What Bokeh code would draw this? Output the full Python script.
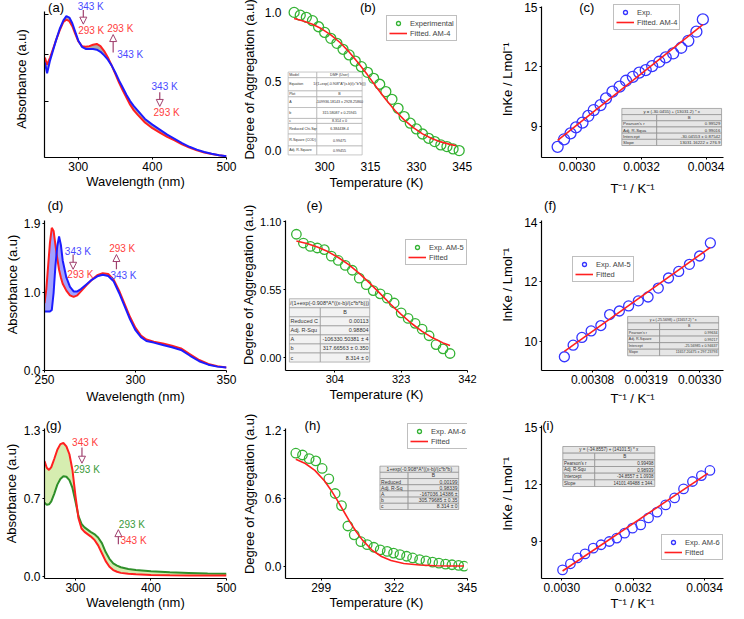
from bokeh.plotting import figure
from bokeh.layouts import gridplot
from bokeh.models import (Range1d, FixedTicker, PrintfTickFormatter, Legend, LegendItem,
                          Label, Arrow, NormalHead)
from bokeh.core.properties import value
from bokeh.embed import file_html
from bokeh.resources import INLINE

FONT = "Liberation Sans"

# ---------------- data ----------------
# (a) AM-4 spectra
WL_A = [255, 258, 262, 266, 270, 275, 280, 284, 288, 292, 296, 300, 305, 310, 315, 320, 325, 330, 335, 340,
        345, 350, 355, 360, 365, 370, 375, 380, 390, 400, 410, 420, 430, 440, 450, 460, 470, 480, 490, 500]
ABS_A_343 = [0.665, 0.59, 0.68, 0.75, 0.82, 0.90, 0.96, 0.99, 0.98, 0.94, 0.88, 0.82, 0.775, 0.76, 0.76, 0.76,
             0.755, 0.74, 0.715, 0.685, 0.645, 0.595, 0.54, 0.49, 0.44, 0.395, 0.36, 0.33, 0.27, 0.23, 0.195,
             0.16, 0.13, 0.10, 0.075, 0.055, 0.038, 0.026, 0.016, 0.009]
ABS_A_293 = [0.70, 0.65, 0.70, 0.76, 0.82, 0.89, 0.95, 0.965, 0.955, 0.92, 0.865, 0.815, 0.78, 0.775, 0.78, 0.79,
             0.795, 0.78, 0.745, 0.70, 0.645, 0.585, 0.525, 0.47, 0.42, 0.37, 0.33, 0.30, 0.245, 0.205, 0.175,
             0.145, 0.12, 0.092, 0.07, 0.05, 0.035, 0.024, 0.015, 0.008]

# (b) AM-4 degree of aggregation
T_B = [290, 292, 294, 296, 298, 300, 302, 304, 306, 308, 310, 312, 314, 316, 318, 320, 322, 324, 326, 328,
       330, 332, 334, 336, 338, 340, 342, 344]
DA_B = [1.0, 0.98, 0.964, 0.94, 0.896, 0.855, 0.812, 0.776, 0.733, 0.692, 0.648, 0.607, 0.566, 0.523, 0.480,
        0.427, 0.371, 0.306, 0.246, 0.198, 0.157, 0.12, 0.089, 0.065, 0.041, 0.029, 0.012, 0.0]
FIT_T_B = [290, 293, 296, 299, 302, 305, 308, 311, 314, 317, 320, 323, 326, 329, 332, 335, 338, 341, 343]
FIT_B = [0.956, 0.938, 0.914, 0.881, 0.837, 0.782, 0.714, 0.634, 0.548, 0.457, 0.370, 0.290, 0.222, 0.166,
         0.121, 0.088, 0.063, 0.045, 0.035]

# (c) AM-4 van't Hoff
INVT_C = [0.00294, 0.00296, 0.00298, 0.002997, 0.003017, 0.003035, 0.003052, 0.003073, 0.00309, 0.00311,
          0.003132, 0.003152, 0.003173, 0.003193, 0.003213, 0.003233, 0.003255, 0.003275, 0.003298, 0.003323,
          0.003345, 0.00337, 0.00339]
LNK_C = [7.95, 8.33, 8.63, 8.93, 9.17, 9.51, 9.81, 10.06, 10.40, 10.74, 10.99, 11.29, 11.49, 11.70, 11.83,
         12.03, 12.25, 12.47, 12.67, 12.96, 13.31, 13.77, 14.39]
FIT_X_C = [0.00294, 0.00339]
FIT_Y_C = [8.27, 14.13]

# (d) AM-5 spectra
WL_D = [250, 251, 252, 253, 254, 255, 256, 257, 258, 259, 260, 262, 264, 266, 268, 270, 273, 276, 279, 282,
        285, 288, 291, 294, 297, 300, 303, 306, 310, 315, 320, 325, 330, 335, 340, 345, 350]
ABS_D_343 = [0.76, 0.76, 0.76, 0.76, 0.78, 1.0, 1.35, 1.6, 1.73, 1.62, 1.42, 1.2, 1.08, 1.02, 1.02, 1.05,
             1.11, 1.17, 1.215, 1.235, 1.22, 1.15, 1.00, 0.83, 0.66, 0.52, 0.43, 0.38, 0.36, 0.33, 0.30,
             0.265, 0.19, 0.12, 0.075, 0.05, 0.038]
ABS_D_293 = [0.87, 1.05, 1.35, 1.65, 1.84, 1.80, 1.62, 1.45, 1.30, 1.2, 1.12, 1.03, 0.97, 0.95, 0.97, 1.02,
             1.10, 1.17, 1.23, 1.255, 1.245, 1.17, 1.03, 0.86, 0.69, 0.55, 0.45, 0.40, 0.37, 0.35, 0.32,
             0.285, 0.21, 0.135, 0.085, 0.055, 0.04]

# (e) AM-5 degree of aggregation
T_E = [293, 295, 297, 299, 301, 303, 305, 307, 309, 311, 313, 315, 317, 319, 321, 323, 325, 327, 329, 331,
       333, 335, 337]
DA_E = [0.999, 0.928, 0.901, 0.888, 0.875, 0.822, 0.787, 0.747, 0.708, 0.644, 0.591, 0.543, 0.517, 0.482,
        0.443, 0.363, 0.318, 0.278, 0.231, 0.178, 0.106, 0.072, 0.034]
FIT_T_E = [293, 296, 299, 302, 305, 308, 311, 314, 317, 320, 323, 326, 329, 332, 335, 337]
FIT_E = [0.945, 0.924, 0.896, 0.859, 0.811, 0.753, 0.683, 0.604, 0.519, 0.433, 0.351, 0.277, 0.213, 0.161,
         0.120, 0.098]

# (f) AM-5 van't Hoff
INVT_F = [0.003022, 0.00304, 0.003058, 0.003077, 0.003097, 0.003115, 0.003135, 0.003154, 0.003174, 0.003194,
          0.003215, 0.003236, 0.003257, 0.003279, 0.0033, 0.003322]
LNK_F = [9.48, 9.87, 10.13, 10.35, 10.53, 10.90, 11.02, 11.19, 11.36, 11.49, 11.79, 12.13, 12.35, 12.59,
         12.87, 13.31]
FIT_X_F = [0.003022, 0.003322]
FIT_Y_F = [9.66, 13.16]

# (g) AM-6 spectra
WL_G = [259, 262, 265, 268, 272, 276, 280, 284, 288, 292, 296, 300, 304, 308, 312, 316, 320, 325, 330, 335,
        340, 345, 350, 355, 360, 370, 380, 400, 425, 450, 475, 500]
ABS_G_343 = [1.03, 0.97, 0.95, 0.975, 1.05, 1.13, 1.18, 1.19, 1.16, 1.09, 0.95, 0.72, 0.52, 0.43, 0.40, 0.38,
             0.36, 0.33, 0.28, 0.21, 0.14, 0.09, 0.06, 0.045, 0.035, 0.027, 0.022, 0.017, 0.013, 0.012, 0.012,
             0.012]
ABS_G_293 = [0.66, 0.64, 0.645, 0.67, 0.74, 0.82, 0.87, 0.895, 0.89, 0.86, 0.79, 0.67, 0.54, 0.47, 0.44, 0.42,
             0.40, 0.38, 0.35, 0.30, 0.22, 0.16, 0.12, 0.10, 0.085, 0.07, 0.06, 0.05, 0.04, 0.035, 0.03, 0.028]

# (h) AM-6 degree of aggregation
T_H = [291.0, 293.1, 295.2, 297.3, 299.3, 301.4, 303.4, 305.4, 307.4, 309.4, 311.5, 313.5, 315.6, 317.6,
       319.8, 321.8, 323.8, 325.9, 327.8, 330.0, 332.0, 334.1, 336.1, 338.2, 340.2, 342.3, 344.0]
DA_H = [1.0, 0.984, 0.952, 0.932, 0.865, 0.773, 0.643, 0.536, 0.355, 0.277, 0.216, 0.190, 0.167, 0.144, 0.130,
        0.115, 0.101, 0.087, 0.072, 0.058, 0.046, 0.035, 0.026, 0.017, 0.012, 0.006, 0.0]
FIT_T_H = [291, 294, 297, 300, 302, 304, 306, 308, 310, 312, 315, 318, 321, 325, 330, 335, 340, 344]
FIT_H = [0.947, 0.909, 0.848, 0.756, 0.677, 0.587, 0.490, 0.394, 0.306, 0.230, 0.142, 0.085, 0.049, 0.023,
         0.009, 0.003, 0.001, 0.0006]

# (i) AM-6 van't Hoff
INVT_I = [0.003002, 0.003024, 0.003044, 0.003065, 0.003088, 0.00311, 0.003133, 0.003154, 0.003176, 0.003198,
          0.003221, 0.003243, 0.003267, 0.003291, 0.003316, 0.003341, 0.003366, 0.003391, 0.003415]
LNK_I = [7.51, 7.83, 8.14, 8.35, 8.65, 8.83, 9.00, 9.18, 9.44, 9.70, 9.87, 10.24, 10.54, 10.92, 11.29, 11.76,
         12.15, 12.46, 12.73]
FIT_X_I = [0.003002, 0.003409]
FIT_Y_I = [7.45, 12.58]

# tick labels
XT_A = [300, 400, 500]
XT_B = [300, 315, 330, 345]
XT_C = [0.0030, 0.0032, 0.0034]
XT_D = [250, 300, 350]
XT_E = [304, 323, 342]
XT_F = [0.00308, 0.00319, 0.00330]
XT_H = [299, 322, 345]
YT_A = [0, 0.39, 0.72, 1.0]
YT_B = [0.0, 0.5, 1.0]
YT_C = [9, 12, 15]
YT_D = [0.0, 1.0, 1.9]
YT_E = [0.0, 0.55, 1.10]
YT_F = [10, 12, 14]
YT_G = [0.0, 0.7, 1.3]
YT_H = [0.0, 0.6, 1.2]

# fit tables
TAB_B = [("Model", "DMF (User)"), ("Equation", "1/(1+exp(-0.908*A*(x-b)/(c*b*b)))"), ("Plot", "B"),
         ("A", "-109936.18143 ± 2928.25860"), ("b", "315.58087 ± 0.25945"), ("c", "8.314 ± 0"),
         ("Reduced Chi-Sqr", "6.38443E-4"), ("R-Square (COD)", "0.99475"), ("Adj. R-Square", "0.99455")]
TAB_C = [("y = (-30.0455) + (13031.2) * x",), ("", "B", "center"), ("Pearson's r", "0.99529"),
         ("Adj. R-Squa", "0.99016"), ("Intercept", "-30.04553 ± 0.87542"), ("Slope", "13031.16222 ± 276.9")]
TAB_E = [("/(1+exp(-0.908*A*((x-b)/(c*b*b)))",), ("", "B", "center"), ("Reduced C", "0.00113"),
         ("Adj. R-Squ", "0.98804"), ("A", "-106330.50381 ± 4"), ("b", "317.66563 ± 0.350"), ("c", "8.314 ± 0")]
TAB_F = [("y = (-25.5698) + (11657.2) * x",), ("", "B", "center"), ("Pearson's r", "0.99634"),
         ("Adj. R-Square", "0.99217"), ("Intercept", "-25.56985 ± 0.94637"), ("Slope", "11657.20475 ± 297.23793")]
TAB_H = [("1+exp(-0.908*A*((x-b)/(c*b*b)",), ("", "B", "center"), ("Reduced", "0.00199"),
         ("Adj. R-Sq", "0.98339"), ("A", "-167036.14386 ±"), ("b", "305.79685 ± 0.35"), ("c", "8.314 ± 0")]
TAB_I = [("y = (-34.8557) + (14101.5) * x",), ("", "B", "center"), ("Pearson's r", "0.99498"),
         ("Adj. R-Squ", "0.98939"), ("Intercept", "-34.8557 ± 1.0938"), ("Slope", "14101.49488 ± 344.")]

# ---------------- styling ----------------
BLUE = "#1c1cff"
RED = "#ff2020"
GREEN_C = "#35b335"
GREEN_L = "#2f8f2a"
BLUE_C = "#3535ff"
BLUE_T = "#4a4aff"
RED_T = "#ff4040"
GREEN_T = "#3a9a3a"
ARROW = "#a0406e"


def build(frame, cell, xr, yr):
    """frame = reference plot-area box (px); the drawn frame is stretched up to the cell top
    so that panel letters are not clipped; the y axis line is bounded to the original range."""
    L, R, T, B = frame
    cx0, cx1, cy0, cy1 = cell

    def fx(a):
        return xr[0] + (a - L) / (R - L) * (xr[1] - xr[0])

    def fy(a):
        return yr[0] + (B - a) / (B - T) * (yr[1] - yr[0])
    ytop = fy(cy0)
    p = figure(width=cx1 - cx0, height=cy1 - cy0,
               x_range=Range1d(*xr), y_range=Range1d(yr[0], ytop),
               min_border_left=L - cx0, min_border_right=cx1 - R,
               min_border_top=0, min_border_bottom=cy1 - B,
               title_location=None,
               output_backend="svg", toolbar_location=None, tools="")
    p.outline_line_color = None
    p.xgrid.visible = False
    p.ygrid.visible = False
    p.background_fill_color = "white"
    p.border_fill_color = "white"
    p.yaxis[0].bounds = (yr[0], yr[1])
    return p, fx, fy


def axes(p, xticks, yticks, xfmt, yfmt, xlabel, ylabel, xls, yls, lines=True, tick_fs="12px"):
    xa, ya = p.xaxis[0], p.yaxis[0]
    xa.ticker = FixedTicker(ticks=xticks)
    ya.ticker = FixedTicker(ticks=yticks)
    xa.formatter = PrintfTickFormatter(format=xfmt)
    ya.formatter = PrintfTickFormatter(format=yfmt)
    xa.axis_label = xlabel
    ya.axis_label = ylabel
    for ax in (xa, ya):
        ax.axis_line_color = "black" if lines else None
        ax.axis_line_width = 1.2
        ax.major_tick_line_color = "black" if lines else None
        ax.major_tick_line_width = 1
        ax.major_tick_out = 2
        ax.major_tick_in = 0
        ax.minor_tick_line_color = None
        ax.major_label_text_font = FONT
        ax.major_label_text_font_size = tick_fs
        ax.major_label_text_color = "black"
        ax.major_label_standoff = 2
        ax.axis_label_text_font = FONT
        ax.axis_label_text_font_size = "13px"
        ax.axis_label_text_font_style = "normal"
        ax.axis_label_text_color = "black"
    xa.axis_label_standoff = xls
    ya.axis_label_standoff = yls


def table(p, fx, fy, left, right, split, top, heights, rows, fs, fill, line, col2="right"):
    ql, qr, qt, qb = [], [], [], []
    groups = {"left": ([], [], []), "center": ([], [], []), "right": ([], [], [])}
    y = top
    for h, row in zip(heights, rows):
        yb = y + h
        ym = (y + yb) / 2
        if len(row) == 1:
            cells = [(left, right, row[0], "center")]
        else:
            al2 = row[2] if len(row) > 2 else col2
            cells = [(left, split, row[0], "left"), (split, right, row[1], al2)]
        for a, b_, t, al in cells:
            ql.append(fx(a)); qr.append(fx(b_)); qt.append(fy(y)); qb.append(fy(yb))
            if t:
                tx = a + 1.2 if al == "left" else (b_ - 1.2 if al == "right" else (a + b_) / 2)
                g = groups[al]
                g[0].append(fx(tx)); g[1].append(fy(ym)); g[2].append(t)
        y = yb
    p.quad(left=ql, right=qr, top=qt, bottom=qb, fill_color=fill, line_color=line, line_width=0.7)
    for al, (xs, ys, ts) in groups.items():
        if xs:
            p.text(x=xs, y=ys, text=ts, text_align=al, text_baseline="middle",
                   text_font=value(FONT), text_font_size=value(fs), text_color="#333333")


def legend(p, items, loc):
    leg = Legend(items=[LegendItem(label=t, renderers=[r]) for t, r in items], location=loc,
                 border_line_color="#808080", border_line_width=1, background_fill_color="white",
                 background_fill_alpha=1, label_text_font=FONT, label_text_font_size="7.5px",
                 glyph_height=10, glyph_width=18, label_height=9, label_standoff=3, spacing=0,
                 padding=2, margin=0)
    p.add_layout(leg)


def lab(p, fx, fy, text, x, y, color, size="10px"):
    p.add_layout(Label(x=fx(x), y=fy(y), text=text, text_color=color, text_font=FONT,
                       text_font_size=size, text_align="center", text_baseline="middle"))


def arrow(p, fx, fy, x, y0, y1):
    p.add_layout(Arrow(end=NormalHead(size=7, fill_color="white", line_color=ARROW, line_width=1),
                       x_start=fx(x), y_start=fy(y0), x_end=fx(x), y_end=fy(y1),
                       line_color=ARROW, line_width=1.2))


# ---------------- (a) ----------------
pa, fx, fy = build((37, 226, 12, 166), (0, 238, 0, 198), (254.5, 500), (0, 1.02))
axes(pa, XT_A, YT_A, "%d", "%.1f", "Wavelength (nm)", "Absorbance (a.u)", 0, 16)
pa.yaxis[0].major_label_text_color = None
pa.yaxis[0].major_label_standoff = 0
pa.yaxis[0].major_tick_in = 4
pa.yaxis[0].major_tick_out = 0
pa.varea(x=WL_A, y1=ABS_A_343, y2=ABS_A_293, fill_color="#ababab")
pa.line(WL_A, ABS_A_293, line_color=RED, line_width=2)
pa.line(WL_A, ABS_A_343, line_color=BLUE, line_width=2)
lab(pa, fx, fy, "343 K", 85, 6, BLUE_T)
arrow(pa, fx, fy, 77.3, 10, 25)
lab(pa, fx, fy, "293 K", 85.5, 32, RED_T)
lab(pa, fx, fy, "293 K", 115.7, 29.7, RED_T)
arrow(pa, fx, fy, 108.3, 55, 36)
lab(pa, fx, fy, "343 K", 126, 57, BLUE_T)
lab(pa, fx, fy, "343 K", 161.7, 90.7, BLUE_T)
arrow(pa, fx, fy, 156.7, 97, 112)
lab(pa, fx, fy, "293 K", 163.8, 118.8, RED_T)
lab(pa, fx, fy, "(a)", 49, 7.5, "black", "13px")

# ---------------- (b) ----------------
pb, fx, fy = build((281, 490, 5, 158), (238, 497, 0, 198), (287.18, 346.72), (-0.05, 1.05))
axes(pb, XT_B, YT_B, "%d", "%.1f", "Temperature (K)", "Degree of Aggregation (a.u)", 1, 5, lines=False)
table(pb, fx, fy, 284, 369, 317, 72, [5.7, 13.3, 6, 10.7, 11, 5, 10.7, 12, 9], TAB_B, "3.6px",
      "white", "#b0b0b0", col2="center")
rb1 = pb.scatter(T_B, DA_B, marker="circle", size=10, fill_color=None, line_color=GREEN_C, line_width=1.3)
rb2 = pb.line(FIT_T_B, FIT_B, line_color=RED, line_width=1.6)
legend(pb, [("Experimental", rb1), ("Fitted. AM-4", rb2)], (101, 116))
lab(pb, fx, fy, "(b)", 375.7, 7.5, "black", "13px")

# ---------------- (c) ----------------
pc, fx, fy = build((535, 723, 6, 160), (497, 744, 0, 198), (0.00289, 0.003454), (7.41, 15.05))
axes(pc, XT_C, YT_C, "%.4f", "%d", "T⁻¹ / K⁻¹", "lnKe / Lmol⁻¹", 7, 6)
table(pc, fx, fy, 618, 721, 654, 110, [6.3] * 6, TAB_C, "4.3px", "#e6e6e6", "#8c8c8c")
rc1 = pc.scatter(INVT_C, LNK_C, marker="circle", size=11, fill_color=None, line_color=BLUE_C, line_width=1.3)
rc2 = pc.line(FIT_X_C, FIT_Y_C, line_color=RED, line_width=1.6)
legend(pc, [("Exp.", rc1), ("Fitted. AM-4", rc2)], (72, 127))
lab(pc, fx, fy, "(c)", 581.7, 7.5, "black", "13px")

# ---------------- (d) ----------------
pd_, fx, fy = build((37, 226, 220, 373), (0, 238, 198, 408), (250, 350), (0, 1.94))
axes(pd_, XT_D, YT_D, "%d", "%.1f", "Wavelength (nm)", "Absorbance (a.u)", 2, 1)
pd_.varea(x=WL_D, y1=ABS_D_343, y2=ABS_D_293, fill_color="#7a7aff", fill_alpha=0.7)
pd_.line(WL_D, ABS_D_293, line_color=RED, line_width=2)
pd_.line(WL_D, ABS_D_343, line_color=BLUE, line_width=2)
lab(pd_, fx, fy, "343 K", 71.7, 251.7, BLUE_T)
arrow(pd_, fx, fy, 66.7, 255, 270)
lab(pd_, fx, fy, "293 K", 74.3, 275.8, RED_T)
lab(pd_, fx, fy, "293 K", 117.7, 249.3, RED_T)
arrow(pd_, fx, fy, 111.7, 270, 255)
lab(pd_, fx, fy, "343 K", 119, 276.7, BLUE_T)
lab(pd_, fx, fy, "(d)", 48.3, 205.5, "black", "13px")

# ---------------- (e) ----------------
pe, fx, fy = build((280, 468, 220, 373), (238, 497, 198, 408), (289.88, 342), (-0.1034, 1.1135))
axes(pe, XT_E, YT_E, "%d", "%.2f", "Temperature (K)", "Degree of Aggregation (a.u)", 1, 1, tick_fs="11px")
table(pe, fx, fy, 284, 367, 316, 300, [9.2] * 7, TAB_E, "5.5px", "#f2f2f2", "#9a9a9a")
re1 = pe.scatter(T_E, DA_E, marker="circle", size=9.5, fill_color=None, line_color=GREEN_C, line_width=1.3)
re2 = pe.line(FIT_T_E, FIT_E, line_color=RED, line_width=1.6)
legend(pe, [("Exp. AM-5", re1), ("Fitted", re2)], (120, 105))
lab(pe, fx, fy, "(e)", 310, 205.5, "black", "13px")

# ---------------- (f) ----------------
pf, fx, fy = build((535, 723, 220, 373), (497, 744, 198, 408), (0.002975, 0.003349), (9.018, 14.076))
axes(pf, XT_F, YT_F, "%.5f", "%d", "T⁻¹ / K⁻¹", "lnKe / Lmol⁻¹", 4, 6)
table(pf, fx, fy, 624, 718, 657, 318, [6.67] * 6, TAB_F, "3.6px", "#e6e6e6", "#8c8c8c")
rf1 = pf.scatter(INVT_F, LNK_F, marker="circle", size=10, fill_color=None, line_color=BLUE_C, line_width=1.3)
rf2 = pf.line(FIT_X_F, FIT_Y_F, line_color=RED, line_width=1.6)
legend(pf, [("Exp. AM-5", rf1), ("Fitted", rf2)], (31, 88))
lab(pf, fx, fy, "(f)", 544, 205.5, "black", "13px")

# ---------------- (g) ----------------
pg, fx, fy = build((38, 226, 428, 582), (0, 238, 408, 619), (259, 500), (-0.015, 1.323))
axes(pg, XT_A, YT_G, "%d", "%.1f", "Wavelength (nm)", "Absorbance (a.u)", 0, 2)
pg.varea(x=WL_G, y1=ABS_G_343, y2=ABS_G_293, fill_color="#d6edb0")
pg.line(WL_G, ABS_G_293, line_color=GREEN_L, line_width=2)
pg.line(WL_G, ABS_G_343, line_color=RED, line_width=2)
lab(pg, fx, fy, "343 K", 80, 443.3, RED_T)
arrow(pg, fx, fy, 76.7, 448, 464)
lab(pg, fx, fy, "293 K", 81.7, 470.7, GREEN_T)
lab(pg, fx, fy, "293 K", 128.3, 526.7, GREEN_T)
arrow(pg, fx, fy, 114.3, 547, 532)
lab(pg, fx, fy, "343 K", 130, 543.3, RED_T)
lab(pg, fx, fy, "(g)", 47.5, 425, "black", "13px")

# ---------------- (h) ----------------
ph, fx, fy = build((280, 467, 428, 582), (238, 497, 408, 619), (287.75, 345.1), (-0.11, 1.223))
axes(ph, XT_H, YT_H, "%d", "%.1f", "Temperature (K)", "Degree of Aggregation (a.u)", 0, 5)
table(ph, fx, fy, 377, 458, 406, 467, [6.34] * 7, TAB_H, "5px", "#e6e6e6", "#8c8c8c")
rh1 = ph.scatter(T_H, DA_H, marker="circle", size=9.5, fill_color=None, line_color=GREEN_C, line_width=1.3)
rh2 = ph.line(FIT_T_H, FIT_H, line_color=RED, line_width=1.6)
legend(ph, [("Exp. AM-6", rh1), ("Fitted", rh2)], (122, 129))
lab(ph, fx, fy, "(h)", 307.8, 425.3, "black", "13px")

# ---------------- (i) ----------------
pi, fx, fy = build((535, 723, 425, 578), (497, 744, 408, 619), (0.002943, 0.003453), (7.058, 15.09))
axes(pi, XT_C, YT_C, "%.4f", "%d", "T⁻¹ / K⁻¹", "lnKe / Lmol⁻¹", 1, 6)
table(pi, fx, fy, 557, 652, 590, 446, [6.67] * 6, TAB_I, "4.5px", "#e6e6e6", "#8c8c8c")
ri1 = pi.scatter(INVT_I, LNK_I, marker="circle", size=9.5, fill_color=None, line_color=BLUE_C, line_width=1.3)
ri2 = pi.line(FIT_X_I, FIT_Y_I, line_color=RED, line_width=1.6)
legend(pi, [("Exp. AM-6", ri1), ("Fitted", ri2)], (120, 18))
lab(pi, fx, fy, "(i)", 541.7, 425.3, "black", "13px")

grid = gridplot([[pa, pb, pc], [pd_, pe, pf], [pg, ph, pi]], toolbar_location=None)
open("out.html", "w").write(file_html(grid, INLINE))
